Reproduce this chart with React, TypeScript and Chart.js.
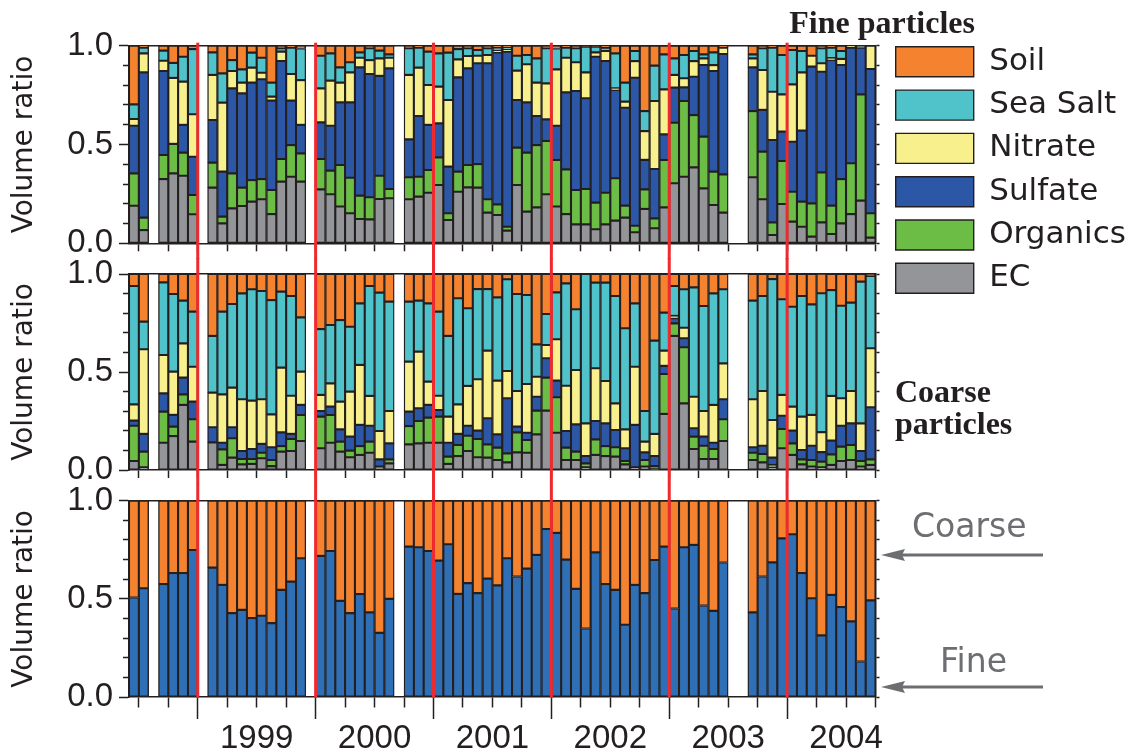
import React, { useEffect, useRef } from 'react';
import { Chart, registerables } from 'chart.js';

Chart.register(...registerables);

// ---------------- categories ----------------
const N = null;
const START_YEAR = 1998;
const START_MONTH = 6; // June 1998
const MONTH_COUNT = 76; // Jun 1998 .. Sep 2004
const months: string[] = Array.from({ length: MONTH_COUNT }, (_, i) => {
  const m = START_MONTH - 1 + i;
  return `${START_YEAR + Math.floor(m / 12)}-${String((m % 12) + 1).padStart(2, '0')}`;
});
const yearLabels = ['1999', '2000', '2001', '2002', '2003', '2004'];
const yTickLabels = ['0.0', '0.5', '1.0'];
const componentNames = ['EC', 'Organics', 'Sulfate', 'Nitrate', 'Sea Salt', 'Soil'];
const sizeNames = ['Fine', 'Coarse'];

// ---------------- fine particles (volume ratio) ----------------
const fineEC = [
  0.19, 0.067, N, 0.325, 0.354, 0.342, 0.147,
  N, 0.282, 0.101, 0.177, 0.189, 0.211, 0.223, 0.148, 0.312, 0.337, 0.312, N,
  0.273, 0.248, 0.186, 0.152, 0.123, 0.121, 0.224, 0.228, N, 0.223, 0.236, 0.256,
  0.295, 0.118, 0.261, 0.283, 0.282, 0.155, 0.143, 0.064, 0.295, 0.16, 0.182, 0.248,
  0.186, 0.148, 0.096, 0.096, 0.071, 0.096, 0.115, 0.13, 0.056, 0.174, 0.076, 0.182,
  0.304, 0.337, 0.384, 0.278, 0.194, 0.155, N, N, 0.334, 0.223, 0.042, 0.199,
  0.11, 0.084, 0.034, 0.106, 0.047, 0.101, 0.148, 0.216, 0.029,
];
const fineOrganics = [
  0.164, 0.063, N, 0.122, 0.149, 0.117, 0.098,
  N, 0.126, 0.034, 0.177, 0.093, 0.109, 0.102, 0.122, 0.115, 0.16, 0.143, N,
  0.154, 0.12, 0.21, 0.18, 0.118, 0.112, 0.118, 0.047, N, 0.111, 0.101, 0.115,
  0.14, 0.034, 0.102, 0.113, 0.119, 0.068, 0.054, 0.02, 0.189, 0.299, 0.315, 0.27,
  0.236, 0.226, 0.174, 0.179, 0.135, 0.16, 0.214, 0.061, 0.033, 0.099, 0.05, 0.24,
  0.306, 0.383, 0.265, 0.262, 0.169, 0.194, N, N, 0.335, 0.241, 0.064, 0.218,
  0.151, 0.127, 0.168, 0.253, 0.144, 0.224, 0.257, 0.538, 0.123,
];
const fineSulfate = [
  0.241, 0.735, N, 0.425, 0, 0.14, 0.193,
  N, 0.216, 0.228, 0.43, 0.477, 0.493, 0.505, 0.452, 0.495, 0.225, 0.144, N,
  0.185, 0.227, 0.317, 0.381, 0.649, 0.624, 0.505, 0.61, N, 0.192, 0.307, 0.228,
  0.172, 0.236, 0.477, 0.489, 0.51, 0.688, 0.769, 0.886, 0.241, 0.254, 0.147, 0.109,
  0.173, 0.39, 0.501, 0.459, 0.738, 0.666, 0.447, 0.495, 0.749, 0.149, 0.25, 0.129,
  0.178, 0.069, 0.194, 0.362, 0.509, 0.609, N, N, 0.221, 0.211, 0.417, 0.148,
  0.253, 0.359, 0.692, 0.509, 0.736, 0.577, 0.585, 0.236, 0.73,
];
const fineNitrate = [
  0.034, 0.096, N, 0.052, 0.334, 0.219, 0.215,
  N, 0.228, 0.349, 0.088, 0.054, 0.076, 0.033, 0.02, 0.048, 0.135, 0.227, N,
  0.172, 0.228, 0.1, 0.152, 0.049, 0.07, 0.089, 0.054, N, 0.326, 0.245, 0.202,
  0.186, 0.337, 0.091, 0.063, 0.038, 0.042, 0.01, 0.01, 0.149, 0.193, 0.169, 0.182,
  0.285, 0.175, 0.145, 0.131, 0.022, 0.051, 0.008, 0.031, 0.084, 0.146, 0.344, 0.228,
  0.064, 0.046, 0.079, 0.034, 0.03, 0.032, N, N, 0.046, 0.202, 0.244, 0.189,
  0.29, 0.295, 0.055, 0.043, 0.01, 0.031, 0.01, 0.005, 0.118,
];
const fineSeaSalt = [
  0.074, 0.029, N, 0.051, 0.076, 0.126, 0.33,
  N, 0.114, 0.148, 0.055, 0.067, 0.076, 0.076, 0.071, 0.017, 0.133, 0.16, N,
  0.165, 0.138, 0.077, 0.051, 0.027, 0.06, 0.039, 0.017, N, 0.135, 0.101, 0.169,
  0.168, 0.24, 0.052, 0.039, 0.029, 0.034, 0.014, 0.01, 0.075, 0.047, 0.123, 0.178,
  0.106, 0.051, 0.071, 0.13, 0.029, 0.017, 0.177, 0.096, 0.051, 0.101, 0.179, 0.177,
  0.084, 0.118, 0.051, 0.02, 0.064, 0, N, N, 0.02, 0.11, 0.223, 0.199,
  0.174, 0.108, 0, 0.076, 0.053, 0.04, 0, 0.005, 0,
];
const fineSoil = [
  0.297, 0.01, N, 0.025, 0.087, 0.056, 0.017,
  N, 0.034, 0.14, 0.073, 0.12, 0.035, 0.061, 0.187, 0.013, 0.01, 0.013, N,
  0.051, 0.039, 0.11, 0.084, 0.034, 0.013, 0.025, 0.044, N, 0.013, 0.01, 0.03,
  0.039, 0.035, 0.017, 0.013, 0.022, 0.013, 0.01, 0.01, 0.051, 0.047, 0.064, 0.013,
  0.013, 0.01, 0.013, 0.005, 0.005, 0.01, 0.039, 0.187, 0.027, 0.331, 0.101, 0.044,
  0.064, 0.047, 0.027, 0.044, 0.034, 0.01, N, N, 0.044, 0.013, 0.01, 0.047,
  0.022, 0.027, 0.051, 0.013, 0.01, 0.027, 0, 0, 0,
];

// ---------------- coarse particles (volume ratio) ----------------
const coarseEC = [
  0.046, 0.014, N, 0.139, 0.173, 0.332, 0.145,
  N, 0.141, 0.026, 0.063, 0.029, 0.031, 0.06, 0.02, 0.094, 0.097, 0.148, N,
  0.111, 0.139, 0.094, 0.065, 0.077, 0.088, 0.017, 0.034, N, 0.131, 0.136, 0.139,
  0.139, 0.031, 0.071, 0.097, 0.065, 0.063, 0.051, 0.039, 0.09, 0.088, 0.182, 0.303,
  0.19, 0.051, 0.051, 0.014, 0.077, 0.071, 0.068, 0.029, 0.014, 0.017, 0.003, 0.286,
  0.684, 0.34, 0.107, 0.056, 0.056, 0.148, N, N, 0.051, 0.039, 0.014, 0.111,
  0.077, 0.029, 0.017, 0.014, 0.026, 0.046, 0.051, 0.017, 0.026,
];
const coarseOrganics = [
  0.18, 0.08, N, 0.159, 0.048, 0.054, 0.114,
  N, 0, 0.079, 0.099, 0.027, 0.025, 0.028, 0.031, 0.028, 0.061, 0.133, N,
  0.161, 0.142, 0.051, 0.034, 0.045, 0.057, 0, 0.02, N, 0.093, 0.114, 0.128,
  0.133, 0.037, 0.057, 0.078, 0.093, 0.068, 0.063, 0.046, 0.102, 0.065, 0.121, 0.168,
  0.181, 0.063, 0.043, 0.02, 0.079, 0.051, 0.048, 0.017, 0, 0.034, 0.017, 0.204,
  0.064, 0.286, 0.063, 0.068, 0.051, 0.111, N, N, 0.037, 0.043, 0.012, 0.098,
  0.059, 0.025, 0.034, 0.029, 0.054, 0.073, 0.077, 0.029, 0.028,
];
const coarseSulfate = [
  0.026, 0.09, N, 0.093, 0.06, 0.085, 0.09,
  N, 0.077, 0.034, 0.056, 0.041, 0.051, 0.045, 0.065, 0.07, 0.026, 0.051, N,
  0.029, 0.042, 0.062, 0.071, 0.108, 0.081, 0.037, 0.082, N, 0.074, 0.065, 0.065,
  0.034, 0.071, 0.056, 0.051, 0.043, 0.133, 0.068, 0.281, 0.029, 0.037, 0.071, 0.099,
  0.085, 0.085, 0.139, 0.037, 0.094, 0.116, 0.088, 0.065, 0.216, 0.039, 0.051, 0.041,
  0.026, 0.046, 0.043, 0.046, 0.032, 0.102, N, N, 0.028, 0.042, 0.037, 0.068,
  0.065, 0.048, 0.073, 0.048, 0.07, 0.107, 0.11, 0.051, 0.266,
];
const coarseNitrate = [
  0.083, 0.432, N, 0.196, 0.221, 0.175, 0.178,
  N, 0.177, 0.247, 0.202, 0.264, 0.247, 0.228, 0.168, 0.33, 0.195, 0.17, N,
  0.082, 0.119, 0.142, 0.23, 0.306, 0.152, 0.145, 0.165, N, 0.255, 0.289, 0.119,
  0.073, 0.133, 0.151, 0.203, 0.262, 0.345, 0.274, 0.139, 0.182, 0.249, 0.102, 0.068,
  0.211, 0.231, 0.277, 0.167, 0.269, 0.216, 0.136, 0.096, 0.297, 0.055, 0.113, 0.078,
  0.012, 0.054, 0.161, 0.131, 0.193, 0.183, N, N, 0.245, 0.279, 0.192, 0.106,
  0.122, 0.17, 0.157, 0.102, 0.228, 0.14, 0.165, 0.141, 0.301,
];
const coarseSeaSalt = [
  0.604, 0.141, N, 0.37, 0.396, 0.218, 0.281,
  N, 0.289, 0.422, 0.427, 0.54, 0.568, 0.552, 0.583, 0.388, 0.509, 0.277, N,
  0.336, 0.298, 0.416, 0.331, 0.314, 0.561, 0.706, 0.558, N, 0.306, 0.26, 0.399,
  0.429, 0.412, 0.541, 0.396, 0.46, 0.314, 0.425, 0.468, 0.495, 0.454, 0.165, 0.158,
  0.239, 0.522, 0.31, 0.762, 0.437, 0.502, 0.548, 0.516, 0.323, 0.156, 0.476, 0.194,
  0.153, 0.196, 0.558, 0.536, 0.569, 0.378, N, N, 0.503, 0.485, 0.719, 0.488,
  0.51, 0.616, 0.564, 0.709, 0.54, 0.472, 0.451, 0.723, 0.369,
];
const coarseSoil = [
  0.061, 0.243, N, 0.043, 0.102, 0.136, 0.192,
  N, 0.316, 0.192, 0.153, 0.099, 0.078, 0.087, 0.133, 0.09, 0.112, 0.221, N,
  0.281, 0.26, 0.235, 0.269, 0.15, 0.061, 0.095, 0.141, N, 0.141, 0.136, 0.15,
  0.192, 0.316, 0.124, 0.175, 0.077, 0.077, 0.119, 0.027, 0.102, 0.107, 0.359, 0.204,
  0.094, 0.048, 0.18, 0, 0.044, 0.044, 0.112, 0.277, 0.15, 0.699, 0.34, 0.197,
  0.061, 0.078, 0.068, 0.163, 0.099, 0.078, N, N, 0.136, 0.112, 0.026, 0.129,
  0.167, 0.112, 0.155, 0.099, 0.082, 0.162, 0.146, 0.039, 0.01,
];

// ---------------- fine / coarse split ----------------
const fineFraction = [
  0.507, 0.554, N, 0.575, 0.631, 0.631, 0.749,
  N, 0.659, 0.571, 0.427, 0.444, 0.402, 0.414, 0.376, 0.546, 0.588, 0.707, N,
  0.719, 0.744, 0.49, 0.427, 0.524, 0.431, 0.327, 0.5, N, 0.766, 0.763, 0.744,
  0.695, 0.778, 0.525, 0.58, 0.529, 0.603, 0.569, 0.707, 0.614, 0.654, 0.724, 0.856,
  0.836, 0.7, 0.551, 0.349, 0.737, 0.575, 0.546, 0.368, 0.571, 0.529, 0.698, 0.766,
  0.451, 0.763, 0.775, 0.466, 0.439, 0.685, N, N, 0.431, 0.614, 0.686, 0.808,
  0.829, 0.631, 0.503, 0.314, 0.52, 0.458, 0.385, 0.181, 0.492,
];
const coarseFraction = [
  0.493, 0.446, N, 0.425, 0.369, 0.369, 0.251,
  N, 0.341, 0.429, 0.573, 0.556, 0.598, 0.586, 0.624, 0.454, 0.412, 0.293, N,
  0.281, 0.256, 0.51, 0.573, 0.476, 0.569, 0.673, 0.5, N, 0.234, 0.237, 0.256,
  0.305, 0.222, 0.475, 0.42, 0.471, 0.397, 0.431, 0.293, 0.386, 0.346, 0.276, 0.144,
  0.164, 0.3, 0.449, 0.651, 0.263, 0.425, 0.454, 0.632, 0.429, 0.471, 0.302, 0.234,
  0.549, 0.237, 0.225, 0.534, 0.561, 0.315, N, N, 0.569, 0.386, 0.314, 0.192,
  0.171, 0.369, 0.497, 0.686, 0.48, 0.542, 0.615, 0.819, 0.508,
];

// ---------------- styles ----------------
const DARK = '#231f20';
const RED = '#ee2a2e';
const NOTE_GRAY = '#6d6e71';
const COMPONENT_COLORS = ['#939598', '#6bbd45', '#2b57a6', '#f7f08c', '#50c3ca', '#f4822f'];
const SIZE_COLORS = ['#2f6fb6', '#f4822f'];
const W = 1138;
const PLOT_LEFT = 129;
const PLOT_RIGHT = 875.5;
const LEGEND_BOX_LEFT = 895.7;
const SANS = "'DejaVu Sans'";
const NUM = "'Liberation Sans'";
const SERIF = "'Liberation Serif'";

const monthOfYear = (i: number) => (START_MONTH - 1 + i) % 12;
const yearOf = (i: number) => START_YEAR + Math.floor((START_MONTH - 1 + i) / 12);
const isHalfStep = (v: number) => Math.abs(v * 2 - Math.round(v * 2)) < 1e-6;

type Note = { text: string; x: number; y: number; font: string; color: string; align: CanvasTextAlign };
type Arrow = { value: number; tipX: number; tailX: number; color: string };
type Panel = {
  kind: 'fine' | 'coarse' | 'ratio';
  top: number;
  height: number;
  padTop: number;
  padRight: number;
  topAxisH: number;
  xAxisH: number;
  showYears: boolean;
  legend: boolean;
  extTop: number;
  extBottom: number;
  notes: Note[];
  arrows: Arrow[];
};

const yearLinesPlugin = (p: Panel) => ({
  id: 'yearLines',
  afterDatasetsDraw(chart: any) {
    const xs = chart.scales.x;
    const ca = chart.chartArea;
    const half = (xs.getPixelForValue(1) - xs.getPixelForValue(0)) / 2;
    const ctx = chart.ctx;
    ctx.save();
    ctx.strokeStyle = RED;
    ctx.lineWidth = 3;
    months.forEach((_, i) => {
      if (monthOfYear(i) !== 0) return;
      const x = xs.getPixelForValue(i) - half;
      ctx.beginPath();
      ctx.moveTo(x, ca.top - p.extTop);
      ctx.lineTo(x, ca.bottom + p.extBottom);
      ctx.stroke();
    });
    ctx.restore();
  },
});

const notesPlugin = (p: Panel) => ({
  id: 'notes',
  afterDraw(chart: any) {
    const ctx = chart.ctx;
    ctx.save();
    p.notes.forEach((n) => {
      ctx.font = n.font;
      ctx.fillStyle = n.color;
      ctx.textAlign = n.align;
      ctx.textBaseline = 'alphabetic';
      ctx.fillText(n.text, n.x, n.y);
    });
    p.arrows.forEach((a) => {
      const y = chart.scales.y.getPixelForValue(a.value);
      ctx.strokeStyle = a.color;
      ctx.fillStyle = a.color;
      ctx.lineWidth = 3;
      ctx.beginPath();
      ctx.moveTo(a.tailX, y);
      ctx.lineTo(a.tipX + 20, y);
      ctx.stroke();
      ctx.beginPath();
      ctx.moveTo(a.tipX, y);
      ctx.lineTo(a.tipX + 24, y - 6);
      ctx.lineTo(a.tipX + 21, y);
      ctx.lineTo(a.tipX + 24, y + 6);
      ctx.closePath();
      ctx.fill();
    });
    ctx.restore();
  },
});

// Places the legend so that its first colour box starts at LEGEND_BOX_LEFT.
const legendPlacePlugin = {
  id: 'legendPlace',
  afterLayout(chart: any) {
    const lg = chart.legend;
    if (!lg || !lg.options.display) return;
    const pad = lg.options.labels.padding;
    const dx = LEGEND_BOX_LEFT - (lg.left + pad);
    if (Math.abs(dx) < 0.01) return;
    lg.left += dx;
    lg.right += dx;
    if (lg.legendHitBoxes) lg.legendHitBoxes.forEach((h: any) => (h.left += dx));
  },
};

function makeConfig(p: Panel): any {
  const series =
    p.kind === 'ratio'
      ? [fineFraction, coarseFraction]
      : p.kind === 'fine'
      ? [fineEC, fineOrganics, fineSulfate, fineNitrate, fineSeaSalt, fineSoil]
      : [coarseEC, coarseOrganics, coarseSulfate, coarseNitrate, coarseSeaSalt, coarseSoil];
  const names = p.kind === 'ratio' ? sizeNames : componentNames;
  const colors = p.kind === 'ratio' ? SIZE_COLORS : COMPONENT_COLORS;
  const datasets = series.map((data, k) => ({
    label: names[k],
    data,
    backgroundColor: colors[k],
    borderColor: DARK,
    borderWidth: 1.4,
    borderSkipped: false,
    barPercentage: 1,
    categoryPercentage: 1,
    xAxisID: 'x',
    yAxisID: 'y',
  }));
  const idx = (c: any) => (typeof c.index === 'number' ? c.index : MONTH_COUNT);
  return {
    type: 'bar',
    data: { labels: months, datasets },
    options: {
      responsive: false,
      maintainAspectRatio: false,
      animation: false,
      events: [],
      layout: { padding: { top: p.padTop, right: p.padRight, left: 0, bottom: 0 } },
      plugins: {
        tooltip: { enabled: false },
        title: { display: false },
        legend: {
          display: p.legend,
          position: 'right',
          align: 'start',
          reverse: true,
          maxWidth: 600,
          labels: {
            boxWidth: 78,
            boxHeight: 30,
            padding: 12.3,
            color: DARK,
            font: { family: SANS, size: 31 },
          },
        },
      },
      scales: {
        x: {
          type: 'category',
          position: 'bottom',
          stacked: true,
          offset: true,
          grid: {
            offset: true,
            drawOnChartArea: false,
            drawTicks: true,
            tickLength: p.showYears ? 22 : 8,
            tickWidth: 1.5,
            tickColor: (c: any) => (monthOfYear(idx(c)) % 3 === 0 ? DARK : 'rgba(0,0,0,0)'),
            tickBorderDash: (c: any) => (p.showYears && monthOfYear(idx(c)) !== 0 ? [10, 40] : []),
          },
          border: { display: true, color: DARK, width: 1.5 },
          ticks: {
            display: p.showYears,
            autoSkip: false,
            maxRotation: 0,
            minRotation: 0,
            padding: 0,
            labelOffset: -((PLOT_RIGHT - PLOT_LEFT) / MONTH_COUNT) / 2,
            color: DARK,
            font: { family: NUM, size: 33 },
            callback: (_v: any, i: number) => {
              if (monthOfYear(i) !== 6) return '';
              const y = String(yearOf(i));
              return yearLabels.includes(y) ? y : '';
            },
          },
          afterFit: (s: any) => {
            s.height = p.xAxisH;
            s.paddingLeft = 0;
            s.paddingRight = 0;
          },
        },
        x2: {
          type: 'linear',
          axis: 'x',
          position: 'top',
          display: true,
          min: 0,
          max: 1,
          ticks: { display: false },
          grid: { drawOnChartArea: false, drawTicks: false },
          border: { display: true, color: DARK, width: 1.5 },
          afterFit: (s: any) => {
            s.height = p.topAxisH;
            s.paddingLeft = 0;
            s.paddingRight = 0;
          },
        },
        y: {
          type: 'linear',
          position: 'left',
          stacked: true,
          min: 0,
          max: 1,
          ticks: {
            stepSize: 0.1,
            autoSkip: false,
            padding: 6,
            color: DARK,
            font: { family: NUM, size: 33 },
            callback: (v: number) => {
              if (!isHalfStep(v)) return '';
              return yTickLabels[Math.round(v * 2)];
            },
          },
          grid: {
            drawOnChartArea: false,
            tickLength: 10,
            tickWidth: 1.5,
            tickColor: DARK,
            tickBorderDash: (c: any) => (c.tick && isHalfStep(c.tick.value) ? [] : [0, 4, 6, 100]),
          },
          border: { display: true, color: DARK, width: 1.5 },
          title: {
            display: true,
            text: 'Volume ratio',
            color: DARK,
            font: { family: SANS, size: 28 },
            padding: { top: 8, bottom: 0 },
          },
          afterFit: (s: any) => {
            s.width = PLOT_LEFT;
            s.paddingTop = 0;
            s.paddingBottom = 0;
          },
        },
        y2: {
          type: 'linear',
          axis: 'y',
          position: 'right',
          display: true,
          min: 0,
          max: 1,
          ticks: { display: false, stepSize: 0.1, autoSkip: false },
          grid: { drawOnChartArea: false, tickLength: 4, tickWidth: 1.5, tickColor: DARK },
          border: { display: true, color: DARK, width: 1.5 },
          afterFit: (s: any) => {
            const lg = s.chart.legend;
            const lw = lg && p.legend ? lg.width : 0;
            s.width = Math.max(4, W - p.padRight - lw - PLOT_RIGHT);
            s.paddingTop = 0;
            s.paddingBottom = 0;
          },
        },
      },
    },
    plugins: [yearLinesPlugin(p), notesPlugin(p), legendPlacePlugin],
  };
}

const panels: Panel[] = [
  {
    kind: 'fine',
    top: 0,
    height: 320,
    padTop: 34,
    padRight: 0,
    topAxisH: 11.7,
    xAxisH: 76.7,
    showYears: false,
    legend: true,
    extTop: 3,
    extBottom: 16,
    notes: [
      { text: 'Fine particles', x: 975, y: 33, font: `bold 32px ${SERIF}`, color: DARK, align: 'right' },
    ],
    arrows: [],
  },
  {
    kind: 'coarse',
    top: 252,
    height: 240,
    padTop: 22,
    padRight: 0,
    topAxisH: 0,
    xAxisH: 22,
    showYears: false,
    legend: false,
    extTop: 16,
    extBottom: 15,
    notes: [
      { text: 'Coarse', x: 895, y: 150, font: `bold 32px ${SERIF}`, color: DARK, align: 'left' },
      { text: 'particles', x: 895, y: 182, font: `bold 32px ${SERIF}`, color: DARK, align: 'left' },
    ],
    arrows: [],
  },
  {
    kind: 'ratio',
    top: 480,
    height: 276,
    padTop: 20.7,
    padRight: 0,
    topAxisH: 0,
    xAxisH: 59,
    showYears: true,
    legend: false,
    extTop: 16,
    extBottom: 1,
    notes: [
      { text: 'Coarse', x: 912, y: 57, font: `33px ${SANS}`, color: NOTE_GRAY, align: 'left' },
      { text: 'Fine', x: 940, y: 192, font: `33px ${SANS}`, color: NOTE_GRAY, align: 'left' },
    ],
    arrows: [
      { value: 0.723, tipX: 881, tailX: 1043, color: NOTE_GRAY },
      { value: 0.051, tipX: 881, tailX: 1043, color: NOTE_GRAY },
    ],
  },
];

function PanelChart({ panel }: { panel: Panel }) {
  const ref = useRef<HTMLCanvasElement | null>(null);
  useEffect(() => {
    if (!ref.current) return;
    const chart = new Chart(ref.current, makeConfig(panel));
    return () => chart.destroy();
  }, [panel]);
  return (
    <canvas
      ref={ref}
      width={W}
      height={panel.height}
      style={{ position: 'absolute', left: 0, top: panel.top, width: W, height: panel.height }}
    />
  );
}

export default function App() {
  return (
    <div style={{ position: 'absolute', left: 0, top: 0, width: W, height: 756, background: '#ffffff' }}>
      {panels.map((p) => (
        <PanelChart key={p.kind} panel={p} />
      ))}
    </div>
  );
}
